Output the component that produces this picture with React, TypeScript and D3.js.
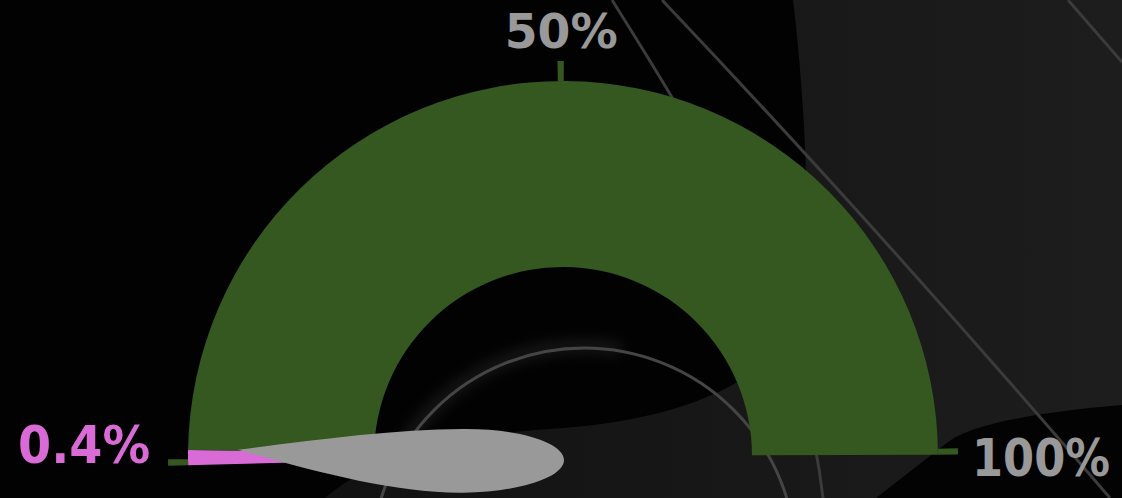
import React, { useEffect, useRef } from "react";
import * as d3 from "d3";

// ---- data ----
const axisMin = 0;
const axisMax = 100;
const axisTicks = [0, 50, 100];
const tickLabels = ["0.4%", "50%", "100%"];
const bandFrom = [0, 0.4];
const bandTo = [0.4, 100];
const needleValue = 0.4;

// ---- style / layout ----
const W = 1122;
const H = 498;
const CX = 563;
const CY = 456;
const R_OUT = 375;
const R_IN = 189;
const START_DEG = -91.4;
const END_DEG = 89.8;
const MIN_SWEEP = (2.3 * Math.PI) / 180;
const bandColors = ["#d96bd7", "#355720"];
const labelColors = ["#d96bd7", "#999999", "#999999"];
const labelAnchors = ["end", "middle", "start"];
const labelDx = [0, 4, -4];
const labelDy = [-3, 5, 21];
const labelSizes = [51, 48, 51];
const labelWidths = [132, 113, 138];

const rad = (d: number) => (d * Math.PI) / 180;

export default function App() {
  const ref = useRef<SVGSVGElement | null>(null);

  useEffect(() => {
    const svg = d3.select(ref.current);
    svg.selectAll("*").remove();

    const defs = svg.append("defs");
    const grad = defs
      .append("linearGradient")
      .attr("id", "bgGrad")
      .attr("x1", "0")
      .attr("x2", "1")
      .attr("y1", "0")
      .attr("y2", "0");
    grad.append("stop").attr("offset", "0.3").attr("stop-color", "#121212");
    grad.append("stop").attr("offset", "1").attr("stop-color", "#1d1d1d");
    const blur = defs
      .append("filter")
      .attr("id", "glow")
      .attr("x", "-20%")
      .attr("y", "-20%")
      .attr("width", "140%")
      .attr("height", "140%");
    blur.append("feGaussianBlur").attr("stdDeviation", 7);

    // background
    svg.append("rect").attr("width", W).attr("height", H).attr("fill", "url(#bgGrad)");
    // big black blob (left / centre)
    svg
      .append("path")
      .attr(
        "d",
        "M0,0 L793,0 C804,90 812,230 803,300 C790,370 700,418 563,428 C470,434 385,448 325,498 L0,498 Z"
      )
      .attr("fill", "#020202");
    // bottom-right black shape
    svg
      .append("path")
      .attr("d", "M1122,405 C1050,411 975,422 948,442 L876,498 L1122,498 Z")
      .attr("fill", "#030303");

    // decorative lines
    const lineColor = "#3b3b3b";
    svg.append("path").attr("d", "M612,0 C700,140 800,300 823,498").attr("fill", "none").attr("stroke", lineColor).attr("stroke-width", 3);
    svg.append("path").attr("d", "M662,0 Q880,230 1110,498").attr("fill", "none").attr("stroke", lineColor).attr("stroke-width", 3);
    svg.append("path").attr("d", "M1068,0 L1122,62").attr("fill", "none").attr("stroke", lineColor).attr("stroke-width", 3);
    // soft glow on the upper-left part of the ring
    svg
      .append("path")
      .attr("d", d3.arc<any>()({ innerRadius: 209, outerRadius: 219, startAngle: rad(-60), endAngle: rad(10) }) as string)
      .attr("transform", "translate(584,560)")
      .attr("fill", "#ffffff")
      .attr("fill-opacity", 0.1)
      .attr("filter", "url(#glow)");
    svg
      .append("circle")
      .attr("cx", 584)
      .attr("cy", 560)
      .attr("r", 212)
      .attr("fill", "none")
      .attr("stroke", "#454545")
      .attr("stroke-width", 3);

    const angle = d3.scaleLinear().domain([axisMin, axisMax]).range([rad(START_DEG), rad(END_DEG)]);
    const g = svg.append("g").attr("transform", `translate(${CX},${CY})`);
    const arc = d3.arc<any>();

    // bands
    const a0 = angle(bandFrom[0]);
    const firstEnd = Math.max(angle(bandTo[0]), a0 + MIN_SWEEP);
    const bands = bandFrom.map((f, i) => ({
      start: i === 0 ? angle(f) : firstEnd,
      end: i === 0 ? firstEnd : angle(bandTo[i]),
      color: bandColors[i],
    }));
    [1, 0].forEach((i) => {
      const b = bands[i];
      g.append("path")
        .attr("d", arc({ innerRadius: R_IN, outerRadius: R_OUT, startAngle: b.start, endAngle: b.end }) as string)
        .attr("fill", b.color);
    });

    // ticks
    const tickLen = 20;
    const tickSweep = 6 / R_OUT;
    axisTicks.forEach((v) => {
      const a = angle(v);
      const dir = v === axisMax ? -1 : 1;
      const s = dir > 0 ? a : a - tickSweep;
      const e = dir > 0 ? a + tickSweep : a;
      g.append("path")
        .attr("d", arc({ innerRadius: R_OUT, outerRadius: R_OUT + tickLen, startAngle: s, endAngle: e }) as string)
        .attr("fill", bandColors[1]);
    });

    // needle (local frame pointing left)
    const p = d3.path();
    p.moveTo(-325, -10);
    p.bezierCurveTo(-250, -19, -170, -28.5, -100, -28.2);
    p.bezierCurveTo(-44.5, -28.2, 1, -13.6, 1, 4);
    p.bezierCurveTo(1, 21.6, -44.5, 35.5, -100, 35.5);
    p.bezierCurveTo(-170, 35.5, -250, 12, -325, -10);
    p.closePath();
    const needleDeg = (angle(needleValue) * 180) / Math.PI + 90;
    g.append("path").attr("d", p.toString()).attr("transform", `rotate(${needleDeg})`).attr("fill", "#999999");

    // labels
    const labelR = R_OUT + 38;
    axisTicks.forEach((v, i) => {
      const a = angle(v);
      const x = CX + labelR * Math.sin(a) + labelDx[i];
      const y = CY - labelR * Math.cos(a) + labelDy[i];
      svg
        .append("text")
        .attr("x", x)
        .attr("y", y)
        .attr("text-anchor", labelAnchors[i])
        .attr("font-family", "'DejaVu Sans', sans-serif")
        .attr("font-weight", 700)
        .attr("font-size", labelSizes[i])
        .attr("textLength", labelWidths[i])
        .attr("lengthAdjust", "spacingAndGlyphs")
        .attr("fill", labelColors[i])
        .text(tickLabels[i]);
    });
  }, []);

  return (
    <svg
      ref={ref}
      width={W}
      height={H}
      style={{ position: "fixed", left: 0, top: 0, display: "block", background: "#000" }}
    />
  );
}
